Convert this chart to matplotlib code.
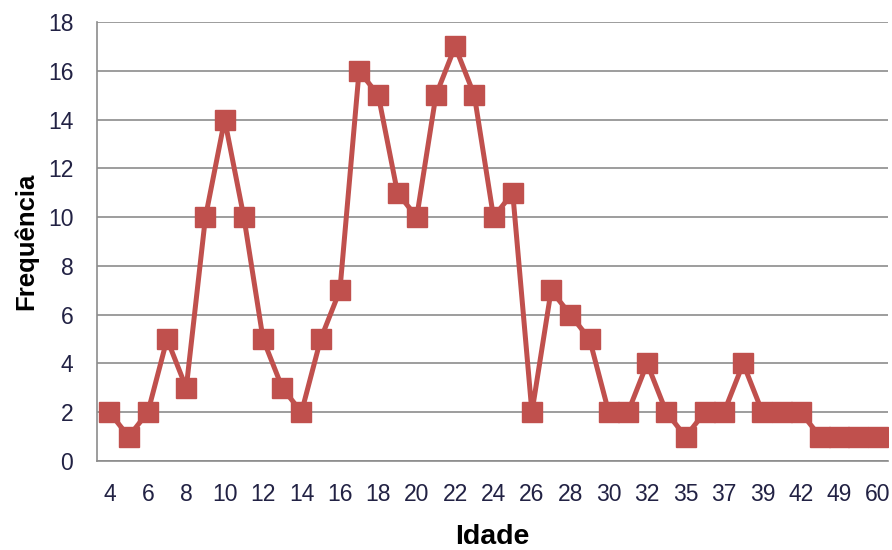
import matplotlib.pyplot as plt
import numpy as np

plt.rcParams['font.family'] = ['Liberation Sans', 'DejaVu Sans']

idade = ['4', '5', '6', '7', '8', '9', '10', '11', '12', '13', '14', '15', '16',
         '17', '18', '19', '20', '21', '22', '23', '24', '25', '26', '27', '28',
         '29', '30', '31', '32', '33', '35', '36', '37', '38', '39', '40', '42',
         '44', '49', '54', '60']
frequencia = [2, 1, 2, 5, 3, 10, 14, 10, 5, 3, 2, 5, 7,
              16, 15, 11, 10, 15, 17, 15, 10, 11, 2, 7, 6,
              5, 2, 2, 4, 2, 1, 2, 2, 4, 2, 2, 2,
              1, 1, 1, 1]

cor = '#C0504D'
x = np.arange(len(idade))

fig = plt.figure(figsize=(8.92, 5.5), dpi=100)
ax = fig.add_axes([0.1087, 0.1618, 0.887, 0.798])

ax.plot(x, frequencia, color=cor, lw=3.6, marker='s', markersize=14,
        markeredgecolor=cor, markerfacecolor=cor, zorder=3)

ax.set_xlim(-0.65, len(idade) - 0.45)
ax.set_ylim(0, 18)
ax.set_yticks(range(0, 19, 2))
ax.set_xticks(x[::2])
ax.set_xticklabels(idade[::2])
ax.grid(axis='y', color='#8c8c8c', lw=1.2)
ax.set_axisbelow(True)

for s in ['top', 'right']:
    ax.spines[s].set_visible(False)
ax.spines['left'].set_color('#8c8c8c')
ax.spines['left'].set_linewidth(1.2)
ax.spines['bottom'].set_color('#8c8c8c')
ax.spines['bottom'].set_linewidth(1.2)

ax.tick_params(axis='both', length=0, labelsize=16.5, colors='#222244')
ax.tick_params(axis='y', pad=17)
ax.tick_params(axis='x', pad=16)

ax.set_ylabel('Frequência', fontsize=18.5, fontweight='bold', labelpad=7)
ax.set_xlabel('Idade', fontsize=20.5, fontweight='bold', labelpad=13)

plt.savefig('out.png', dpi=100)
